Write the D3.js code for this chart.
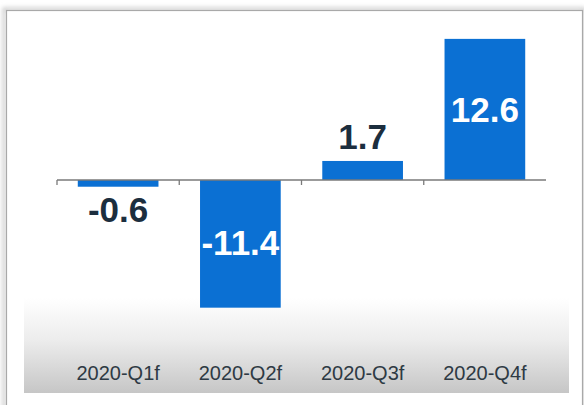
<!DOCTYPE html>
<html>
<head>
<meta charset="utf-8">
<script src="https://cdn.jsdelivr.net/npm/d3@7"></script>
<style>
  html, body { margin: 0; padding: 0; background: #ffffff; }
  svg { display: block; }
</style>
</head>
<body>
<svg id="chart" width="584" height="405"></svg>
<script>
const categories = ["2020-Q1f", "2020-Q2f", "2020-Q3f", "2020-Q4f"];
const values = [-0.6, -11.4, 1.7, 12.6];
const valueLabels = ["-0.6", "-11.4", "1.7", "12.6"];

const svg = d3.select("#chart");

const defs = svg.append("defs");
const grad = defs.append("linearGradient").attr("id", "bandGrad")
  .attr("x1", 0).attr("y1", 0).attr("x2", 0).attr("y2", 1);
grad.append("stop").attr("offset", "0%").attr("stop-color", "#ffffff");
grad.append("stop").attr("offset", "45%").attr("stop-color", "#ececec");
grad.append("stop").attr("offset", "100%").attr("stop-color", "#c6c6c6");

const shadow = defs.append("filter").attr("id", "shadow")
  .attr("x", "-5%").attr("y", "-5%").attr("width", "110%").attr("height", "110%");
shadow.append("feGaussianBlur").attr("stdDeviation", 2);

// frame
svg.append("rect").attr("x", 4).attr("y", 9).attr("width", 580).attr("height", 400)
  .attr("fill", "none").attr("stroke", "#c8c8c8").attr("stroke-width", 3)
  .attr("filter", "url(#shadow)");
svg.append("rect").attr("x", 6.5).attr("y", 10.5).attr("width", 576).attr("height", 400)
  .attr("fill", "#ffffff").attr("stroke", "#a9a9a9").attr("stroke-width", 1.2);

// gradient band at bottom
svg.append("rect").attr("x", 24).attr("y", 298).attr("width", 545).attr("height", 95)
  .attr("fill", "url(#bandGrad)");

const x = d3.scaleBand().domain(categories).range([57, 546])
  .paddingInner(0.34).paddingOuter(0.17);
const y = d3.scaleLinear().domain([-12, 13]).range([314.4, 34.4]);

// bars
svg.selectAll("rect.bar").data(values).enter().append("rect")
  .attr("class", "bar")
  .attr("x", (d, i) => x(categories[i]))
  .attr("width", x.bandwidth())
  .attr("y", d => y(Math.max(0, d)))
  .attr("height", d => Math.abs(y(d) - y(0)))
  .attr("fill", "#0b70d3");

// axis line and ticks at band boundaries
const y0 = y(0);
const r = x.range();
svg.append("line").attr("x1", r[0]).attr("x2", r[1]).attr("y1", y0).attr("y2", y0)
  .attr("stroke", "#7a7a7a").attr("stroke-width", 1.5);
const bounds = d3.range(categories.length).map(i => r[0] + i * x.step());
svg.selectAll("line.tick").data(bounds).enter().append("line")
  .attr("class", "tick")
  .attr("x1", d => d).attr("x2", d => d)
  .attr("y1", y0).attr("y2", y0 + 5)
  .attr("stroke", "#7a7a7a").attr("stroke-width", 1.3);

// value labels
svg.selectAll("text.val").data(values).enter().append("text")
  .attr("class", "val")
  .attr("x", (d, i) => x(categories[i]) + x.bandwidth() / 2)
  .attr("y", (d, i) => {
    if (i === 0) return y(d) + 35;
    if (i === 1) return y(0) + 75;
    if (i === 2) return y(d) - 12;
    return y(d) + 83;
  })
  .attr("text-anchor", "middle")
  .attr("font-family", "Liberation Sans, Arial, sans-serif")
  .attr("font-weight", "bold")
  .attr("font-size", 35)
  .attr("fill", (d, i) => (i === 1 || i === 3) ? "#ffffff" : "#1c2e3e")
  .text((d, i) => valueLabels[i]);

// category labels
const xAxis = d3.axisBottom(x).tickSize(0).tickPadding(0);
const gx = svg.append("g").attr("transform", "translate(0,366)").call(xAxis);
gx.select(".domain").remove();
gx.selectAll("text")
  .attr("font-family", "Liberation Sans, Arial, sans-serif")
  .attr("font-size", 20)
  .attr("fill", "#2e3a44");
</script>
</body>
</html>
